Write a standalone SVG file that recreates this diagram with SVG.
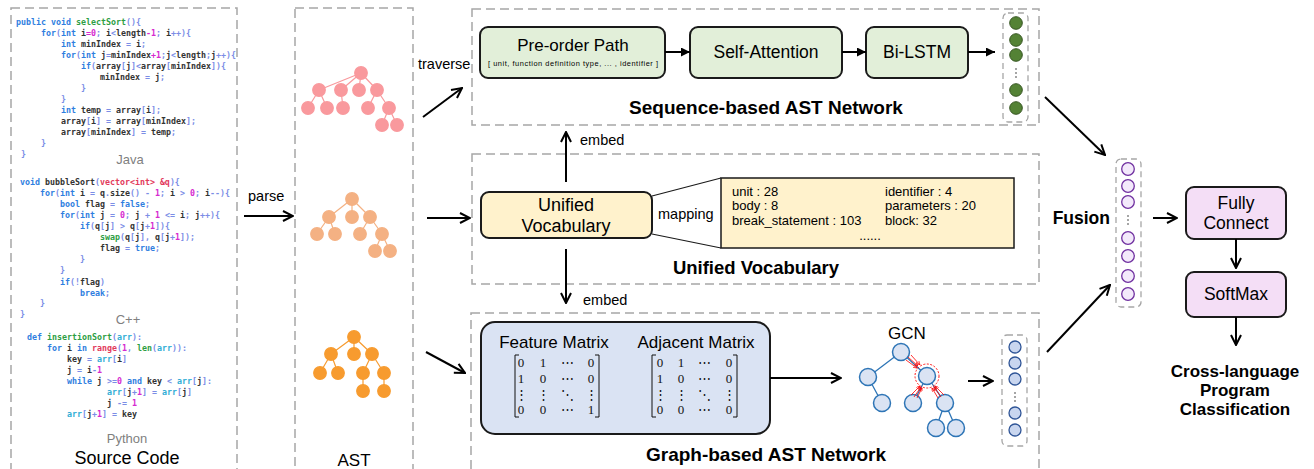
<svg xmlns="http://www.w3.org/2000/svg" width="1314" height="469" viewBox="0 0 1314 469">
<style>
.dash{fill:none;stroke:#a6a6a6;stroke-width:1.5;stroke-dasharray:9 5}
.dbox{fill:none;stroke:#a6a6a6;stroke-width:1.3;stroke-dasharray:6 4}
.code{font-family:"DejaVu Sans Mono","Liberation Mono",monospace;font-size:8.3px;font-weight:bold;fill:#333}
.k{fill:#2f7ee0}.f{fill:#2e9e44}.n{fill:#d62ad0}.p{fill:#7b8de6}.r{fill:#e23a5c}.c{fill:#32aed6}
.lang{font-family:"Liberation Sans",Arial,sans-serif;font-size:13px;fill:#7f7f7f;text-anchor:middle}
.lbl{font-family:"Liberation Sans",Arial,sans-serif;fill:#000}
.mid{text-anchor:middle}
.b{font-weight:bold}
.arr{fill:none;stroke:#000;stroke-width:2}
.box{stroke:#1a1a1a;stroke-width:2}
.mx{font-family:"Liberation Serif","DejaVu Serif",serif;font-size:13px;fill:#111;text-anchor:middle}
.brk{fill:none;stroke:#111;stroke-width:1}
.gn{fill:#dae3f3;stroke:#2e75b6;stroke-width:1.5}
.ge{stroke:#2e75b6;stroke-width:1.3}
.red{stroke:#ff0000;stroke-width:0.8;fill:none}
</style>
<defs>
<marker id="av" viewBox="0 0 12 12" refX="11" refY="6" markerWidth="12" markerHeight="12" markerUnits="userSpaceOnUse" orient="auto"><path d="M1,1 L11,6 L1,11" fill="none" stroke="#000" stroke-width="2"/></marker>
<marker id="at" viewBox="0 0 10 10" refX="10" refY="5" markerWidth="9" markerHeight="9" markerUnits="userSpaceOnUse" orient="auto"><path d="M0,0 L10,5 L0,10 z" fill="#000"/></marker>
<marker id="ar" viewBox="0 0 6 6" refX="6" refY="3" markerWidth="4" markerHeight="4" markerUnits="userSpaceOnUse" orient="auto"><path d="M0,0 L6,3 L0,6" fill="none" stroke="#ff0000" stroke-width="1"/></marker>
</defs>
<rect width="1314" height="469" fill="#fff"/>

<!-- Source code panel -->
<g id="source-code">
<rect class="dash" x="11" y="8" width="226" height="475"/>
<text class="code" x="16" y="25"><tspan class="k">public void</tspan> <tspan class="f">selectSort</tspan><tspan class="p">(){</tspan></text>
<text class="code" x="41" y="36"><tspan class="k">for</tspan><tspan class="p">(</tspan><tspan class="k">int</tspan> i<tspan class="n">=0</tspan><tspan class="p">;</tspan> i<tspan class="p">&lt;</tspan>length<tspan class="n">-1</tspan><tspan class="p">;</tspan> i<tspan class="p">++){</tspan></text>
<text class="code" x="61" y="47"><tspan class="k">int</tspan> minIndex <tspan class="p">=</tspan> i<tspan class="p">;</tspan></text>
<text class="code" x="61" y="58"><tspan class="k">for</tspan><tspan class="p">(</tspan><tspan class="k">int</tspan> j<tspan class="p">=</tspan>minIndex<tspan class="n">+1</tspan><tspan class="p">;</tspan>j<tspan class="p">&lt;</tspan>length<tspan class="p">;</tspan>j<tspan class="p">++){</tspan></text>
<text class="code" x="81" y="69"><tspan class="k">if</tspan><tspan class="p">(</tspan>array<tspan class="p">[</tspan>j<tspan class="p">]&lt;</tspan>array<tspan class="p">[</tspan>minIndex<tspan class="p">]){</tspan></text>
<text class="code" x="100" y="80">minIndex <tspan class="p">=</tspan> j<tspan class="p">;</tspan></text>
<text class="code" x="81" y="91"><tspan class="p">}</tspan></text>
<text class="code" x="61" y="102"><tspan class="p">}</tspan></text>
<text class="code" x="61" y="113"><tspan class="k">int</tspan> temp <tspan class="p">=</tspan> array<tspan class="p">[</tspan>i<tspan class="p">];</tspan></text>
<text class="code" x="61" y="124">array<tspan class="p">[</tspan>i<tspan class="p">]</tspan> <tspan class="p">=</tspan> array<tspan class="p">[</tspan>minIndex<tspan class="p">];</tspan></text>
<text class="code" x="61" y="135">array<tspan class="p">[</tspan>minIndex<tspan class="p">]</tspan> <tspan class="p">=</tspan> temp<tspan class="p">;</tspan></text>
<text class="code" x="41" y="146"><tspan class="p">}</tspan></text>
<text class="code" x="21" y="157"><tspan class="p">}</tspan></text>
<text class="lang" x="130" y="164">Java</text>

<text class="code" x="20" y="185"><tspan class="k">void</tspan> bubbleSort<tspan class="p">(</tspan><tspan class="r">vector&lt;int&gt; &amp;q</tspan><tspan class="p">){</tspan></text>
<text class="code" x="40" y="196"><tspan class="k">for</tspan><tspan class="p">(</tspan><tspan class="k">int</tspan> i <tspan class="p">=</tspan> q<tspan class="p">.</tspan>size<tspan class="p">()</tspan> <tspan class="p">-</tspan> <tspan class="n">1</tspan><tspan class="p">;</tspan> i <tspan class="p">&gt;</tspan> <tspan class="n">0</tspan><tspan class="p">;</tspan> i<tspan class="p">--){</tspan></text>
<text class="code" x="60" y="207"><tspan class="k">bool</tspan> flag <tspan class="p">=</tspan> <tspan class="k">false</tspan><tspan class="p">;</tspan></text>
<text class="code" x="60" y="218"><tspan class="k">for</tspan><tspan class="p">(</tspan><tspan class="k">int</tspan> j <tspan class="p">=</tspan> <tspan class="n">0</tspan><tspan class="p">;</tspan> j <tspan class="p">+</tspan> <tspan class="n">1</tspan> <tspan class="p">&lt;=</tspan> i<tspan class="p">;</tspan> j<tspan class="p">++){</tspan></text>
<text class="code" x="80" y="229"><tspan class="k">if</tspan><tspan class="p">(</tspan>q<tspan class="p">[</tspan>j<tspan class="p">]</tspan> <tspan class="p">&gt;</tspan> q<tspan class="p">[</tspan>j<tspan class="p">+</tspan><tspan class="n">1</tspan><tspan class="p">]){</tspan></text>
<text class="code" x="100" y="240"><tspan class="f">swap</tspan><tspan class="p">(</tspan>q<tspan class="p">[</tspan>j<tspan class="p">],</tspan> q<tspan class="p">[</tspan>j<tspan class="p">+</tspan><tspan class="n">1</tspan><tspan class="p">]);</tspan></text>
<text class="code" x="100" y="251">flag <tspan class="p">=</tspan> <tspan class="k">true</tspan><tspan class="p">;</tspan></text>
<text class="code" x="80" y="262"><tspan class="p">}</tspan></text>
<text class="code" x="60" y="273"><tspan class="p">}</tspan></text>
<text class="code" x="60" y="285"><tspan class="k">if</tspan><tspan class="p">(!</tspan>flag<tspan class="p">)</tspan></text>
<text class="code" x="80" y="296"><tspan class="k">break</tspan><tspan class="p">;</tspan></text>
<text class="code" x="40" y="306"><tspan class="p">}</tspan></text>
<text class="code" x="20" y="317"><tspan class="p">}</tspan></text>
<text class="lang" x="128" y="324">C++</text>

<text class="code" x="27" y="340"><tspan class="k">def</tspan> <tspan class="f">insertionSort</tspan><tspan class="p">(</tspan><tspan class="c">arr</tspan><tspan class="p">):</tspan></text>
<text class="code" x="47" y="351"><tspan class="k">for</tspan> i <tspan class="k">in</tspan> <tspan class="r">range</tspan><tspan class="p">(</tspan><tspan class="n">1</tspan><tspan class="p">,</tspan> <tspan class="f">len</tspan><tspan class="p">(</tspan><tspan class="c">arr</tspan><tspan class="p">)):</tspan></text>
<text class="code" x="67" y="362">key <tspan class="p">=</tspan> <tspan class="c">arr</tspan><tspan class="p">[</tspan>i<tspan class="p">]</tspan></text>
<text class="code" x="67" y="373">j <tspan class="p">=</tspan> i<tspan class="p">-</tspan><tspan class="n">1</tspan></text>
<text class="code" x="67" y="384"><tspan class="k">while</tspan> j <tspan class="p">&gt;=</tspan><tspan class="n">0</tspan> <tspan class="k">and</tspan> key <tspan class="p">&lt;</tspan> <tspan class="c">arr</tspan><tspan class="p">[</tspan>j<tspan class="p">]:</tspan></text>
<text class="code" x="107" y="395"><tspan class="c">arr</tspan><tspan class="p">[</tspan>j<tspan class="p">+</tspan><tspan class="n">1</tspan><tspan class="p">]</tspan> <tspan class="p">=</tspan> <tspan class="c">arr</tspan><tspan class="p">[</tspan>j<tspan class="p">]</tspan></text>
<text class="code" x="107" y="406">j <tspan class="p">-=</tspan> <tspan class="n">1</tspan></text>
<text class="code" x="67" y="417"><tspan class="c">arr</tspan><tspan class="p">[</tspan>j<tspan class="p">+</tspan><tspan class="n">1</tspan><tspan class="p">]</tspan> <tspan class="p">=</tspan> key</text>
<text class="lang" x="127" y="443">Python</text>
<text class="lbl mid" x="127" y="464" font-size="18">Source Code</text>
</g>

<!-- AST panel -->
<g id="ast">
<rect class="dash" x="295" y="8" width="118" height="475"/>
<g fill="#f9999d" stroke="#f9999d" stroke-width="1.2">
<path d="M361,73 L319,90 M361,73 L341,90 M361,73 L359,90 M361,73 L377,90 M319,90 L308,108 M319,90 L327,108 M341,90 L343,108 M377,90 L368,108 M377,90 L389,108 M389,108 L382,125 M389,108 L397,125" fill="none"/>
<circle cx="361" cy="73" r="6.3"/><circle cx="319" cy="90" r="6.3"/><circle cx="341" cy="90" r="6.3"/><circle cx="359" cy="90" r="6.3"/><circle cx="377" cy="90" r="6.3"/>
<circle cx="308" cy="108" r="6.3"/><circle cx="327" cy="108" r="6.3"/><circle cx="343" cy="108" r="6.3"/><circle cx="368" cy="108" r="6.3"/><circle cx="389" cy="108" r="6.3"/>
<circle cx="382" cy="125" r="6.3"/><circle cx="397" cy="125" r="6.3"/>
</g>
<g fill="#f4b183" stroke="#f4b183" stroke-width="1.2">
<path d="M352,199 L329,217 M352,199 L352,217 M352,199 L370,217 M329,217 L317,234 M329,217 L335,234 M370,217 L360,234 M370,217 L382,234 M382,234 L375,251 M382,234 L390,251" fill="none"/>
<circle cx="352" cy="199" r="6.3"/><circle cx="329" cy="217" r="6.3"/><circle cx="352" cy="217" r="6.3"/><circle cx="370" cy="217" r="6.3"/>
<circle cx="317" cy="234" r="6.3"/><circle cx="335" cy="234" r="6.3"/><circle cx="360" cy="234" r="6.3"/><circle cx="382" cy="234" r="6.3"/>
<circle cx="375" cy="251" r="6.3"/><circle cx="390" cy="251" r="6.3"/>
</g>
<g fill="#f79b2f" stroke="#f79b2f" stroke-width="1.2">
<path d="M354,337 L331,354 M354,337 L354,354 M354,337 L372,354 M331,354 L320,373 M331,354 L338,373 M372,354 L363,373 M372,354 L384,373 M363,373 L363,391 M384,373 L384,391" fill="none"/>
<circle cx="354" cy="337" r="6.3"/><circle cx="331" cy="354" r="6.3"/><circle cx="354" cy="354" r="6.3"/><circle cx="372" cy="354" r="6.3"/>
<circle cx="320" cy="373" r="6.3"/><circle cx="338" cy="373" r="6.3"/><circle cx="363" cy="373" r="6.3"/><circle cx="384" cy="373" r="6.3"/>
<circle cx="363" cy="391" r="6.3"/><circle cx="384" cy="391" r="6.3"/>
</g>
<text class="lbl mid" x="354" y="466" font-size="17">AST</text>
</g>

<!-- Sequence-based AST network -->
<g id="sequence-network">
<rect class="dash" x="472" y="9" width="567" height="116"/>
<g id="preorder-path">
<rect class="box" x="480" y="27" width="185" height="51" rx="8" fill="#e2efd9"/>
<text class="lbl mid" x="573" y="51" font-size="17">Pre-order Path</text>
<text class="lbl mid" x="573" y="66" font-size="7.4" textLength="170" lengthAdjust="spacing">[ unit, function definition type, ... , identifier ]</text>
</g>
<g id="self-attention">
<rect class="box" x="690" y="27" width="152" height="51" rx="8" fill="#e2efd9"/>
<text class="lbl mid" x="766" y="58" font-size="17.5">Self-Attention</text>
</g>
<g id="bi-lstm">
<rect class="box" x="866" y="27" width="102" height="51" rx="8" fill="#e2efd9"/>
<text class="lbl mid" x="917" y="58" font-size="17.5">Bi-LSTM</text>
</g>
<g id="seq-vector">
<rect class="dbox" x="1003" y="13" width="25" height="109" rx="5"/>
<g fill="#548235" stroke="#375623" stroke-width="1">
<circle cx="1016" cy="23" r="6.3"/><circle cx="1016" cy="40" r="6.3"/><circle cx="1016" cy="55" r="6.3"/>
<circle cx="1016" cy="90" r="6.3"/><circle cx="1016" cy="108" r="6.3"/>
</g>
<g fill="#333"><circle cx="1016" cy="69" r="0.8"/><circle cx="1016" cy="73" r="0.8"/><circle cx="1016" cy="77" r="0.8"/></g>
</g>
<text class="lbl mid b" x="766" y="114" font-size="19">Sequence-based AST Network</text>
</g>

<!-- Unified vocabulary -->
<g id="unified-vocabulary">
<rect class="dash" x="472" y="154" width="567" height="130"/>
<g id="vocab-node">
<rect class="box" x="481" y="192" width="171" height="46" rx="8" fill="#fff2cc"/>
<text class="lbl mid" x="566" y="211" font-size="18">Unified</text>
<text class="lbl mid" x="566" y="232" font-size="18">Vocabulary</text>
</g>
<g id="mapping-table">
<path d="M652,196 L721,178 M652,234 L721,248" stroke="#1a1a1a" stroke-width="1.2" fill="none"/>
<rect x="721" y="178" width="293" height="70" fill="#fff2cc" stroke="#1a1a1a" stroke-width="1.5"/>
<g class="lbl" font-size="13">
<text x="732" y="196">unit : 28</text>
<text x="732" y="210">body : 8</text>
<text x="732" y="225">break_statement : 103</text>
<text x="885" y="196">identifier : 4</text>
<text x="885" y="210">parameters : 20</text>
<text x="885" y="225">block: 32</text>
<text x="870" y="240" class="mid">......</text>
</g>
</g>
<text class="lbl" x="658" y="219" font-size="14.5">mapping</text>
<text class="lbl mid b" x="756" y="274" font-size="18.5">Unified Vocabulary</text>
</g>

<!-- Graph-based AST network -->
<g id="graph-network">
<rect class="dash" x="471" y="313" width="568" height="175"/>
<g id="matrices">
<rect class="box" x="481" y="322" width="289" height="112" rx="14" fill="#dae3f3"/>
<text class="lbl mid" x="554" y="348" font-size="17">Feature Matrix</text>
<text class="lbl mid" x="696" y="348" font-size="17">Adjacent Matrix</text>
<path class="brk" d="M519,355 L515,355 L515,417 L519,417 M595,355 L599,355 L599,417 L595,417"/>
<path class="brk" d="M656,355 L652,355 L652,417 L656,417 M733,355 L737,355 L737,417 L733,417"/>
<g class="mx">
<text x="521" y="367">0</text><text x="543" y="367">1</text><text x="567" y="367">⋯</text><text x="591" y="367">0</text>
<text x="521" y="383">1</text><text x="543" y="383">0</text><text x="567" y="383">⋯</text><text x="591" y="383">0</text>
<text x="521" y="399">⋮</text><text x="543" y="399">⋮</text><text x="567" y="399">⋱</text><text x="591" y="399">⋮</text>
<text x="521" y="414">0</text><text x="543" y="414">0</text><text x="567" y="414">⋯</text><text x="591" y="414">1</text>
<text x="660" y="367">0</text><text x="681" y="367">1</text><text x="704" y="367">⋯</text><text x="729" y="367">0</text>
<text x="660" y="383">1</text><text x="681" y="383">0</text><text x="704" y="383">⋯</text><text x="729" y="383">0</text>
<text x="660" y="399">⋮</text><text x="681" y="399">⋮</text><text x="704" y="399">⋱</text><text x="729" y="399">⋮</text>
<text x="660" y="414">0</text><text x="681" y="414">0</text><text x="704" y="414">⋯</text><text x="729" y="414">0</text>
</g>
</g>
<g id="gcn">
<text class="lbl mid" x="907" y="339" font-size="17">GCN</text>
<path class="ge" d="M901,352 L868,377 M901,352 L927,376 M868,377 L882,403 M927,376 L913,403 M927,376 L945,403 M945,403 L936,428 M945,403 L956,428" fill="none"/>
<circle class="gn" cx="901" cy="352" r="8.5"/>
<circle class="gn" cx="868" cy="377" r="8.5"/>
<circle class="gn" cx="927" cy="376" r="8.5"/>
<circle class="gn" cx="882" cy="403" r="8.5"/>
<circle class="gn" cx="913" cy="403" r="8.5"/>
<circle class="gn" cx="945" cy="403" r="8.5"/>
<circle class="gn" cx="936" cy="428" r="8.5"/>
<circle class="gn" cx="956" cy="428" r="8.5"/>
<circle cx="927" cy="376" r="12" fill="none" stroke="#ff0000" stroke-width="0.9" stroke-dasharray="2 1.5"/>
<g class="red" marker-end="url(#ar)">
<path d="M908,357 L918,366"/><path d="M911,355 L920,365"/><path d="M906,360 L917,368"/>
<path d="M914,397 L921,387"/><path d="M911,395 L920,386"/><path d="M917,398 L922,388"/>
<path d="M941,397 L934,387"/><path d="M944,395 L935,386"/><path d="M938,398 L932,388"/>
</g>
</g>
<g id="graph-vector">
<rect class="dbox" x="1002" y="335" width="25" height="111" rx="5"/>
<g fill="#c9d6ef" stroke="#2f5597" stroke-width="1.3">
<circle cx="1015" cy="347" r="6"/><circle cx="1015" cy="363" r="6"/><circle cx="1015" cy="379" r="6"/>
<circle cx="1015" cy="413" r="6"/><circle cx="1015" cy="430" r="6"/>
</g>
<g fill="#333"><circle cx="1015" cy="393" r="0.8"/><circle cx="1015" cy="397" r="0.8"/><circle cx="1015" cy="401" r="0.8"/></g>
</g>
<text class="lbl mid b" x="766" y="461" font-size="19">Graph-based AST Network</text>
</g>

<!-- Fusion and classifier -->
<g id="fusion">
<text class="lbl b" x="1110" y="224" font-size="17.5" text-anchor="end">Fusion</text>
<rect class="dbox" x="1116" y="159" width="25" height="148" rx="5"/>
<g fill="#f3e9fb" stroke="#7030a0" stroke-width="1.3">
<circle cx="1128" cy="169" r="6.3"/><circle cx="1128" cy="186" r="6.3"/><circle cx="1128" cy="202" r="6.3"/>
<circle cx="1128" cy="238" r="6.3"/><circle cx="1128" cy="256" r="6.3"/><circle cx="1128" cy="276" r="6.3"/><circle cx="1128" cy="294" r="6.3"/>
</g>
<g fill="#333"><circle cx="1128" cy="216" r="0.8"/><circle cx="1128" cy="220" r="0.8"/><circle cx="1128" cy="224" r="0.8"/></g>
</g>
<g id="fully-connect">
<rect class="box" x="1186" y="187" width="100" height="52" rx="8" fill="#f4def6"/>
<text class="lbl mid" x="1236" y="209" font-size="17.5">Fully</text>
<text class="lbl mid" x="1236" y="229" font-size="17.5">Connect</text>
</g>
<g id="softmax">
<rect class="box" x="1186" y="272" width="100" height="45" rx="8" fill="#f4def6"/>
<text class="lbl mid" x="1236" y="300" font-size="17.5">SoftMax</text>
</g>
<g id="output">
<text class="lbl mid b" x="1235" y="377" font-size="17">Cross-language</text>
<text class="lbl mid b" x="1235" y="396" font-size="17">Program</text>
<text class="lbl mid b" x="1235" y="415" font-size="17">Classification</text>
</g>

<!-- Connectors -->
<g id="connectors">
<line class="arr" x1="244" y1="216" x2="293" y2="216" marker-end="url(#av)"/>
<text class="lbl" x="248" y="201" font-size="14.5">parse</text>
<line class="arr" x1="423" y1="117" x2="462" y2="88" marker-end="url(#av)"/>
<text class="lbl" x="418" y="69" font-size="14.5">traverse</text>
<line class="arr" x1="427" y1="218" x2="470" y2="218" marker-end="url(#av)"/>
<line class="arr" x1="426" y1="352" x2="465" y2="373" marker-end="url(#av)"/>
<line class="arr" x1="665" y1="52" x2="690" y2="52" marker-end="url(#at)"/>
<line class="arr" x1="842" y1="52" x2="866" y2="52" marker-end="url(#at)"/>
<line class="arr" x1="968" y1="52" x2="995" y2="52" marker-end="url(#at)"/>
<line class="arr" x1="566" y1="182" x2="566" y2="132" marker-end="url(#av)"/>
<text class="lbl" x="580" y="145" font-size="14.5">embed</text>
<line class="arr" x1="566" y1="249" x2="566" y2="303" marker-end="url(#av)"/>
<text class="lbl" x="583" y="305" font-size="14.5">embed</text>
<line class="arr" x1="770" y1="378" x2="841" y2="378" marker-end="url(#av)"/>
<line class="arr" x1="968" y1="381" x2="993" y2="381" marker-end="url(#av)"/>
<line class="arr" x1="1045" y1="97" x2="1105" y2="155" marker-end="url(#av)"/>
<line class="arr" x1="1047" y1="352" x2="1110" y2="285" marker-end="url(#av)"/>
<line class="arr" x1="1153" y1="218" x2="1177" y2="218" marker-end="url(#av)"/>
<line class="arr" x1="1236" y1="239" x2="1236" y2="268" marker-end="url(#av)"/>
<line class="arr" x1="1236" y1="317" x2="1236" y2="345" marker-end="url(#av)"/>
</g>
</svg>
